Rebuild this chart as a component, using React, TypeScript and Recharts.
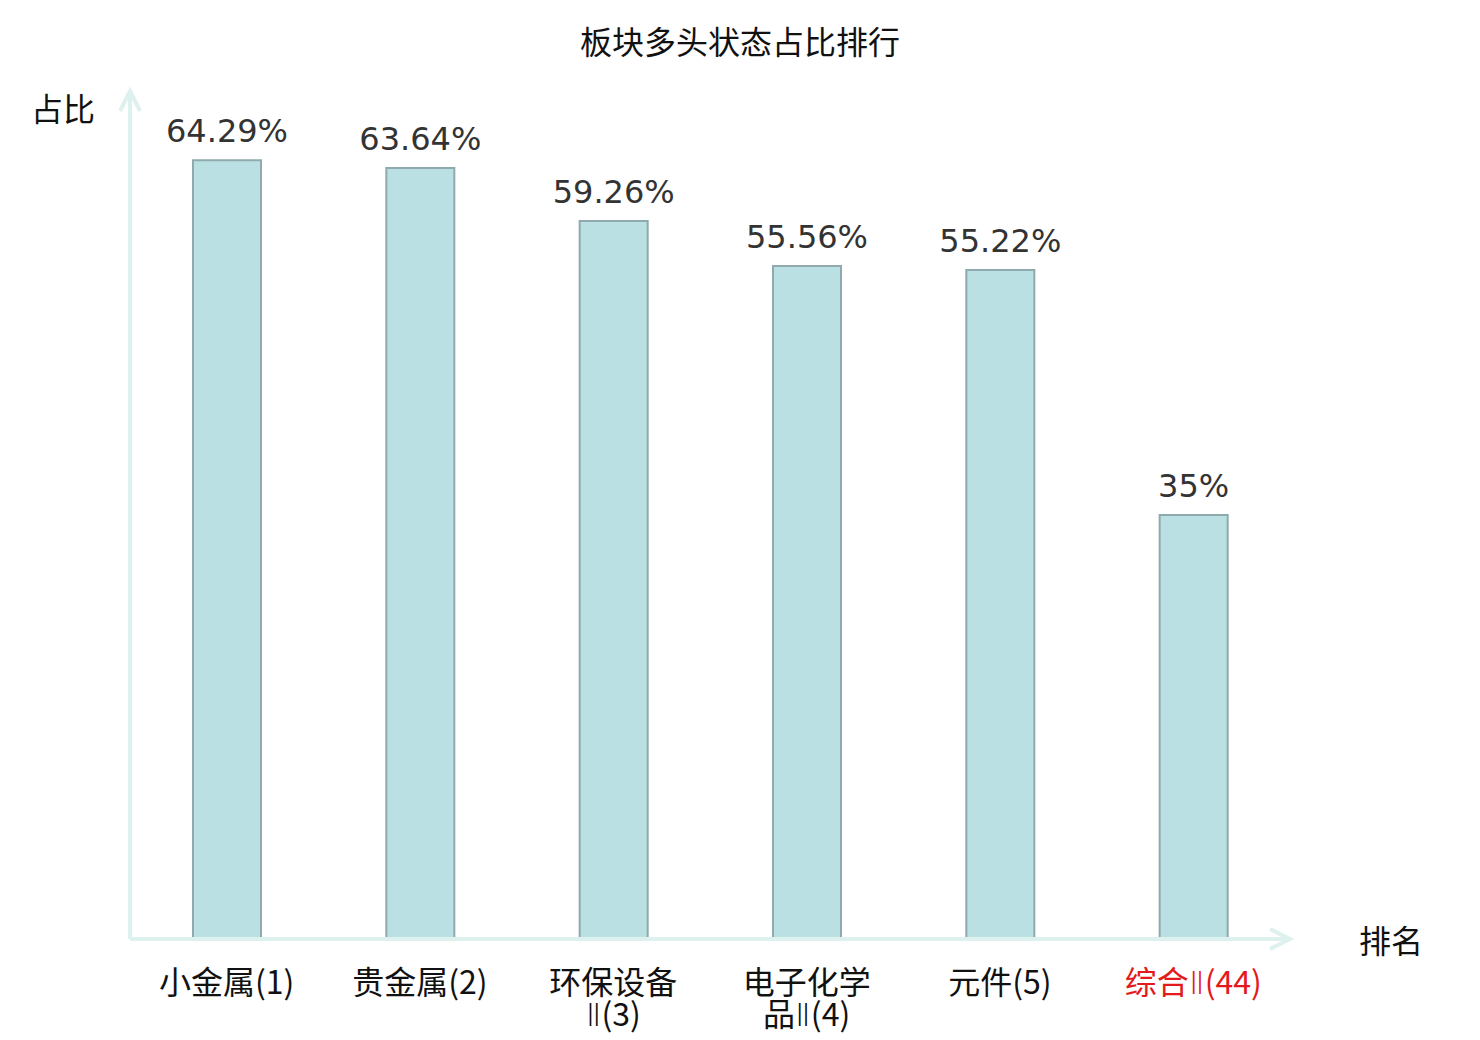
import React from "react";
import { BarChart, Bar, XAxis, YAxis, LabelList } from "recharts";

const categories = ["小金属(1)", "贵金属(2)", "环保设备\nⅡ(3)", "电子化学\n品Ⅱ(4)", "元件(5)", "综合Ⅱ(44)"];
const values = [64.29, 63.64, 59.26, 55.56, 55.22, 35];
const highlighted = ["综合Ⅱ(44)"];
const title = "板块多头状态占比排行";
const yAxisName = "占比";
const xAxisName = "排名";

const data = categories.map((c, i) => ({ name: c, value: values[i] }));

const CJK = "'Noto Sans CJK SC', 'DejaVu Sans', sans-serif";
const LATIN = "'DejaVu Sans', 'Noto Sans CJK SC', sans-serif";
const AXIS_COLOR = "#ddf1ee";

const renderLine = (l: string) =>
  l.split(/(Ⅱ)/).map((seg, j) =>
    seg === "Ⅱ" ? (
      <tspan key={j} fontFamily={LATIN} fontWeight={300}>
        {seg}
      </tspan>
    ) : (
      <tspan key={j}>{seg}</tspan>
    )
  );

const Tick = (props: any) => {
  const { x, y, payload } = props;
  const lines = String(payload.value).split("\n");
  const red = highlighted.includes(payload.value);
  return (
    <text
      x={x}
      y={y}
      textAnchor="middle"
      fontFamily={CJK}
      fontSize={32}
      fill={red ? "#e3191c" : "#111"}
    >
      {lines.map((l: string, i: number) => (
        <tspan key={i} x={x} dy={i === 0 ? 55 : 32}>
          {renderLine(l)}
        </tspan>
      ))}
    </text>
  );
};

export default function App() {
  return (
    <div style={{ position: "absolute", left: 0, top: 0, width: 1480, height: 1040, background: "#fff" }}>
      <BarChart
        width={1480}
        height={1040}
        data={data}
        margin={{ top: 91, right: 190, bottom: 0, left: 0 }}
      >
        <defs>
          <marker
            id="arrowX"
            markerUnits="userSpaceOnUse"
            markerWidth={30}
            markerHeight={30}
            refX={21}
            refY={11}
            orient="auto"
            viewBox="0 0 30 30"
          >
            <path d="M1,1 L21,11 L1,21" fill="none" stroke={AXIS_COLOR} strokeWidth={4} />
          </marker>
          <marker
            id="arrowY"
            markerUnits="userSpaceOnUse"
            markerWidth={30}
            markerHeight={30}
            refX={21}
            refY={11}
            orient="auto-start-reverse"
            viewBox="0 0 30 30"
          >
            <path d="M1,1 L21,11 L1,21" fill="none" stroke={AXIS_COLOR} strokeWidth={4} />
          </marker>
        </defs>
        <XAxis
          dataKey="name"
          interval={0}
          tickLine={false}
          tickSize={0}
          tickMargin={0}
          axisLine={{ stroke: AXIS_COLOR, strokeWidth: 4, markerEnd: "url(#arrowX)" }}
          tick={<Tick />}
          height={101}
        />
        <YAxis
          domain={[0, 70]}
          tick={false}
          tickLine={false}
          width={130}
          axisLine={{ stroke: AXIS_COLOR, strokeWidth: 4, markerStart: "url(#arrowY)" }}
        />
        <Bar
          dataKey="value"
          barSize={68}
          fill="#bbe0e3"
          stroke="#8eaaac"
          strokeWidth={2}
          isAnimationActive={false}
        >
          <LabelList
            dataKey="value"
            position="top"
            offset={18}
            formatter={(v: any) => `${v}%`}
            style={{ fontFamily: LATIN, fontSize: 32, fill: "#333" }}
          />
        </Bar>
        <text x={740} y={54} textAnchor="middle" fontFamily={CJK} fontSize={32} fill="#111">
          {title}
        </text>
        <text x={63} y={121} textAnchor="middle" fontFamily={CJK} fontSize={32} fill="#111">
          {yAxisName}
        </text>
        <text x={1391} y={953} textAnchor="middle" fontFamily={CJK} fontSize={32} fill="#111">
          {xAxisName}
        </text>
      </BarChart>
    </div>
  );
}
